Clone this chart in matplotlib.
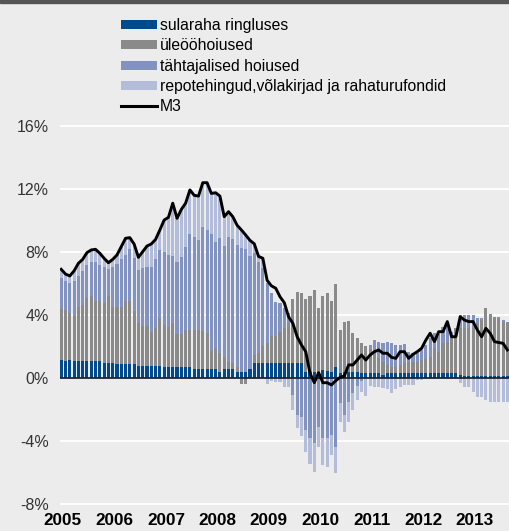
import numpy as np
import pandas as pd
import matplotlib
matplotlib.use('Agg')
import matplotlib.pyplot as plt
from matplotlib.patches import Patch, Rectangle
from matplotlib.lines import Line2D

plt.rcParams['font.family'] = ['Liberation Sans', 'DejaVu Sans']

# monthly contributions to M3 growth, Jan 2005 - Sep 2013 (pp)
cash = [1.14,1.10,1.16,1.08,1.08,1.08,1.08,1.08,1.08,1.08,
        0.97,0.97,0.97,0.89,0.89,0.89,0.89,0.89,0.78,0.78,
        0.78,0.78,0.78,0.78,0.72,0.70,0.70,0.70,0.70,0.70,
        0.70,0.55,0.55,0.55,0.55,0.55,0.55,0.40,0.55,0.55,
        0.55,0.40,0.40,0.40,0.55,0.97,0.97,0.97,0.97,0.97,
        0.97,0.97,0.97,0.97,0.93,0.93,0.93,0.40,0.40,0.40,
        0.40,0.50,0.45,0.40,0.70,0.30,0.40,0.40,0.40,0.40,
        0.30,0.30,0.30,0.30,0.30,0.20,0.30,0.34,0.34,0.34,
        0.34,0.34,0.34,0.34,0.34,0.34,0.34,0.34,0.34,0.34,
        0.34,0.34,0.34,0.19,0.13,0.13,0.13,0.13,0.13,0.13,
        0.13,0.13,0.13,0.13,0.13]

overnight = [3.22,3.20,2.94,2.88,3.41,3.55,3.98,4.12,3.82,3.82,
             3.77,4.23,3.56,3.60,3.64,4.01,4.01,3.39,2.73,2.52,
             2.52,2.16,2.37,3.01,2.64,2.56,2.81,2.09,2.09,2.35,
             2.35,2.50,2.50,2.45,2.29,1.23,1.33,1.17,0.76,0.49,
             0.38,0.32,-0.38,-0.38,0.00,0.49,0.63,1.03,1.23,1.70,
             1.70,1.93,2.23,2.53,4.07,4.55,4.44,4.60,4.80,5.19,
             4.02,4.70,4.95,4.50,5.27,2.75,3.15,3.24,2.48,2.12,
             1.90,1.70,1.55,1.30,1.00,0.80,0.50,0.38,0.38,0.49,
             0.63,0.70,0.66,0.70,0.80,0.86,1.01,1.54,1.33,1.86,
             1.97,2.28,2.81,2.96,3.02,3.02,3.02,3.34,3.55,4.29,
             3.93,3.76,3.66,3.45,3.34]

term = [1.97,1.86,1.95,2.20,1.99,2.17,2.11,2.19,2.49,2.27,
        2.33,1.75,2.50,2.75,3.00,2.91,3.27,3.32,3.35,3.66,
        3.73,4.09,4.38,4.34,4.66,4.55,4.23,4.60,4.91,5.24,
        6.09,5.92,5.71,6.60,6.56,7.36,6.77,7.29,7.07,7.93,
        7.87,7.72,7.83,7.77,7.19,6.46,5.79,4.96,3.80,2.73,
        2.13,1.84,1.22,0.60,-1.08,-2.35,-2.50,-3.30,-3.83,-4.10,
        -3.09,-3.83,-3.83,-3.62,-4.36,-1.61,-2.35,-1.50,-0.97,-0.50,
        -0.20,0.00,0.25,0.80,1.00,1.20,1.50,1.48,1.38,1.27,
        1.18,0.63,0.60,0.53,0.61,0.90,1.17,0.96,1.13,1.06,
        0.99,0.30,0.00,0.85,0.85,0.85,0.85,0.32,0.11,0.00,
        0.00,0.00,0.10,0.10,0.10]

repo = [0.57,0.44,0.43,0.64,0.80,0.73,0.79,0.74,0.78,0.75,
        0.53,0.37,0.50,0.57,0.81,1.06,0.74,0.90,0.80,1.06,
        1.35,1.48,1.27,1.27,2.01,2.39,3.00,2.75,3.00,2.81,
        2.80,2.63,2.79,2.80,3.00,2.58,3.11,2.69,1.86,1.59,
        1.44,1.26,1.17,0.91,1.02,0.63,0.31,0.57,-0.38,-0.17,
        -0.23,-0.25,-0.55,-0.55,-0.95,-0.85,-1.18,-1.38,-1.65,-1.85,
        -1.31,-1.69,-1.80,-1.27,-1.69,-1.16,-1.06,-1.27,-1.06,-0.90,
        -0.67,-1.14,-0.50,-0.55,-0.60,-0.66,-0.70,-0.97,-0.70,-0.55,
        -0.44,-0.44,-0.44,-0.13,-0.10,-0.05,-0.05,-0.05,-0.05,-0.05,
        -0.05,-0.05,-0.05,-0.30,-0.55,-0.55,-0.87,-1.23,-1.23,-1.40,
        -1.50,-1.50,-1.50,-1.50,-1.50]

m3 = [6.90,6.60,6.48,6.80,7.28,7.53,7.96,8.13,8.17,7.92,
      7.60,7.32,7.53,7.81,8.34,8.87,8.91,8.50,7.66,8.02,
      8.38,8.51,8.80,9.40,10.03,10.20,11.10,10.14,10.70,11.10,
      11.94,11.60,11.55,12.40,12.40,11.72,11.76,11.55,10.24,10.56,
      10.24,9.70,9.40,9.08,8.74,8.52,7.72,7.60,6.20,5.85,
      5.70,5.16,4.78,3.89,3.47,2.62,2.10,1.67,0.30,-0.30,
      0.34,-0.30,-0.30,-0.44,-0.17,0.04,0.13,0.83,0.83,1.14,
      1.46,1.14,1.46,1.67,1.78,1.57,1.57,1.31,1.25,1.67,
      1.67,1.25,1.50,1.67,1.88,2.41,2.84,2.31,2.94,2.94,
      3.58,2.62,2.62,3.89,3.68,3.58,3.58,3.05,2.62,3.15,
      2.84,2.31,2.25,2.20,1.78]

labels = ['sularaha ringluses', 'üleööhoiused', 'tähtajalised hoiused',
          'repotehingud,võlakirjad ja rahaturufondid', 'M3']
colors = ['#004a8c', '#8a8a8a', '#8393c0', '#b3bcd9']
years = ['2005', '2006', '2007', '2008', '2009', '2010', '2011', '2012', '2013']
yticks = [-8, -4, 0, 4, 8, 12, 16]
ytick_labels = ['-8%', '-4%', '0%', '4%', '8%', '12%', '16%']

months = pd.date_range('2005-01-01', periods=len(m3), freq='MS')
x = np.arange(len(months))

bg = '#ebeceb'
fig = plt.figure(figsize=(5.09, 5.31), dpi=100, facecolor=bg)
ax = fig.add_axes([60/509, 0.042, 449/509, 0.7296])
ax.set_facecolor(bg)

#stacked bars, positives up and negatives down
pos = np.zeros(len(x))
neg = np.zeros(len(x))
for vals, col in zip([cash, overnight, term, repo], colors):
    v = np.array(vals)
    bottom = np.where(v >= 0, pos, neg)
    ax.bar(x, v, bottom=bottom, width=0.72, color=col, linewidth=0, zorder=2)
    pos = pos + np.clip(v, 0, None)
    neg = neg + np.clip(v, None, 0)

ax.plot(x, m3, color='black', lw=2.1, zorder=4)

ax.set_xlim(-0.28, 104.38)
ax.set_ylim(-8.3, 16.3)
for t in [-8, -4, 4, 8, 12, 16]:
    ax.axhline(t, color='white', lw=1.3, zorder=1)
ax.axhline(0, color='#1c2633', lw=1.3, zorder=3)

ax.set_yticks(yticks)
ax.set_yticklabels(ytick_labels, fontsize=11.5, color='#333333')
ax.set_xticks(np.arange(len(years)) * 12 + 0.4)
ax.set_xticklabels(years, fontsize=12.3, fontweight='bold', color='black')
ax.tick_params(axis='both', length=0)
ax.tick_params(axis='y', pad=8)
ax.tick_params(axis='x', pad=3)
for s in ax.spines.values():
    s.set_visible(False)

# dark strip along the top
fig.patches.append(Rectangle((0, 1 - 3/531), 1, 3/531, transform=fig.transFigure,
                             color='#555555', zorder=5))

handles = [Patch(facecolor=c, edgecolor='none') for c in colors]
handles.append(Line2D([0], [0], color='black', lw=2.2))
fig.legend(handles, labels, loc='upper left', bbox_to_anchor=(115/509, 1 - 12/531),
           frameon=False, fontsize=11.3, handlelength=2.3, handleheight=0.5,
           handletextpad=0.15, labelspacing=0.33, borderaxespad=0)

fig.savefig('out.png', dpi=100, facecolor=bg)
